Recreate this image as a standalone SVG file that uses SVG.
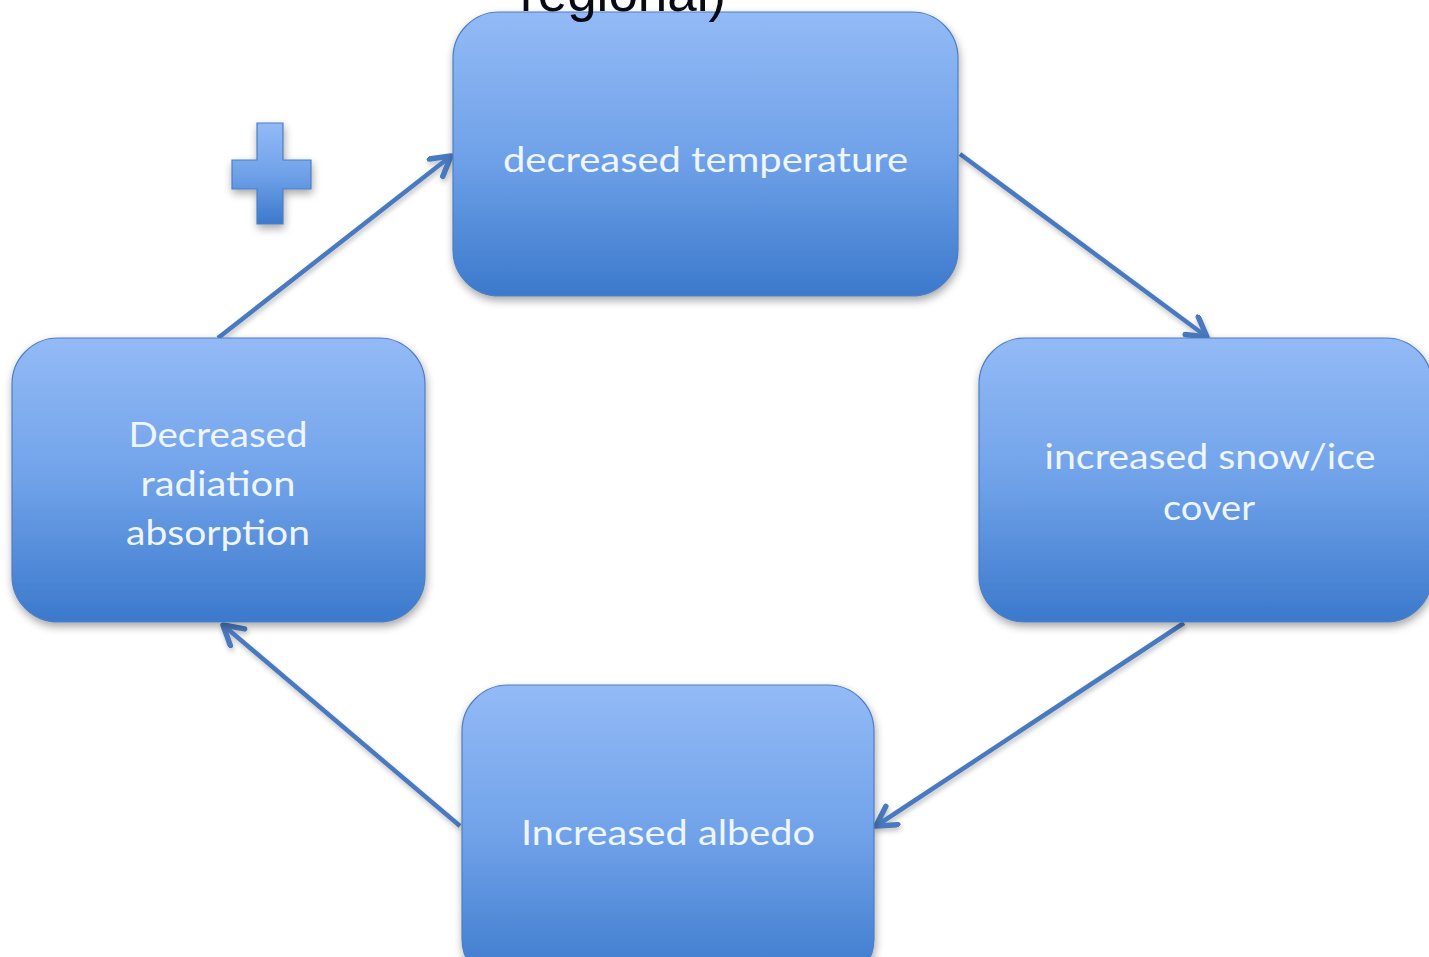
<svg xmlns="http://www.w3.org/2000/svg" width="1429" height="957" viewBox="0 0 1429 957">
  <defs>
    <linearGradient id="boxFill" x1="0" y1="0" x2="0" y2="1">
      <stop offset="0" stop-color="#93baf6"/>
      <stop offset="0.5" stop-color="#70a2e9"/>
      <stop offset="1" stop-color="#3c79cc"/>
    </linearGradient>
    <filter id="shadow" x="-10%" y="-10%" width="125%" height="130%">
      <feDropShadow dx="1" dy="4" stdDeviation="4" flood-color="#000" flood-opacity="0.35"/>
    </filter>
    <filter id="lineShadow" x="-10%" y="-10%" width="125%" height="130%">
      <feDropShadow dx="1" dy="3" stdDeviation="2.5" flood-color="#000" flood-opacity="0.25"/>
    </filter>
    <marker id="arrow" markerUnits="userSpaceOnUse" markerWidth="30" markerHeight="30" refX="22" refY="13" orient="auto">
      <path d="M3,2 L22,13 L3,24" fill="none" stroke="#4a79be" stroke-width="5.5" stroke-linecap="round" stroke-linejoin="round"/>
    </marker>
    <style>
      .box { fill: url(#boxFill); stroke: #4d7ec2; stroke-width: 1.2; filter: url(#shadow); }
      .label { font-family: Lato, "Open Sans", "Liberation Sans", sans-serif; font-size: 35px; fill: #eef5fd; text-anchor: middle; }
      .conn { fill: none; stroke: #4a79be; stroke-width: 4.5; marker-end: url(#arrow); filter: url(#lineShadow); }
      .title { font-family: "Liberation Sans", Arial, sans-serif; font-size: 53px; fill: #0a0a14; }
    </style>
  </defs>

  <rect width="1429" height="957" fill="#ffffff"/>

  <!-- connectors -->
  <g id="connectors">
    <line class="conn" x1="218" y1="338" x2="451" y2="156"/>
    <line class="conn" x1="960" y1="154" x2="1207" y2="337"/>
    <line class="conn" x1="1184" y1="623" x2="876" y2="826"/>
    <line class="conn" x1="460" y1="826" x2="223" y2="625"/>
  </g>

  <g id="node-top">
    <rect class="box" x="453" y="12" width="505" height="284" rx="46" ry="46"/>
    <text class="label" x="705.5" y="172" textLength="405" lengthAdjust="spacingAndGlyphs">decreased temperature</text>
  </g>

  <g id="node-right">
    <rect class="box" x="979" y="338" width="453" height="284" rx="46" ry="46"/>
    <text class="label" x="1210" y="469" textLength="331" lengthAdjust="spacingAndGlyphs">increased snow/ice</text>
    <text class="label" x="1209" y="520" textLength="92" lengthAdjust="spacingAndGlyphs">cover</text>
  </g>

  <g id="node-bottom">
    <rect class="box" x="462" y="685" width="412" height="300" rx="46" ry="46"/>
    <text class="label" x="668" y="845" textLength="294" lengthAdjust="spacingAndGlyphs">Increased albedo</text>
  </g>

  <g id="node-left">
    <rect class="box" x="12" y="338" width="413" height="284" rx="46" ry="46"/>
    <text class="label" x="218" y="447" textLength="179" lengthAdjust="spacingAndGlyphs">Decreased</text>
    <text class="label" x="218" y="496" textLength="155" lengthAdjust="spacingAndGlyphs">radiation</text>
    <text class="label" x="218" y="545" textLength="184" lengthAdjust="spacingAndGlyphs">absorption</text>
  </g>

  <!-- plus sign marking a positive feedback loop -->
  <g id="plus-sign">
    <path class="box" d="M257,123 H283 V160 H311 V189 H283 V224 H257 V189 H232 V160 H257 Z"/>
  </g>

  <!-- heading, mostly cut off at the top edge -->
  <g id="heading">
    <text class="title" x="520" y="11">regional)</text>
  </g>
</svg>
